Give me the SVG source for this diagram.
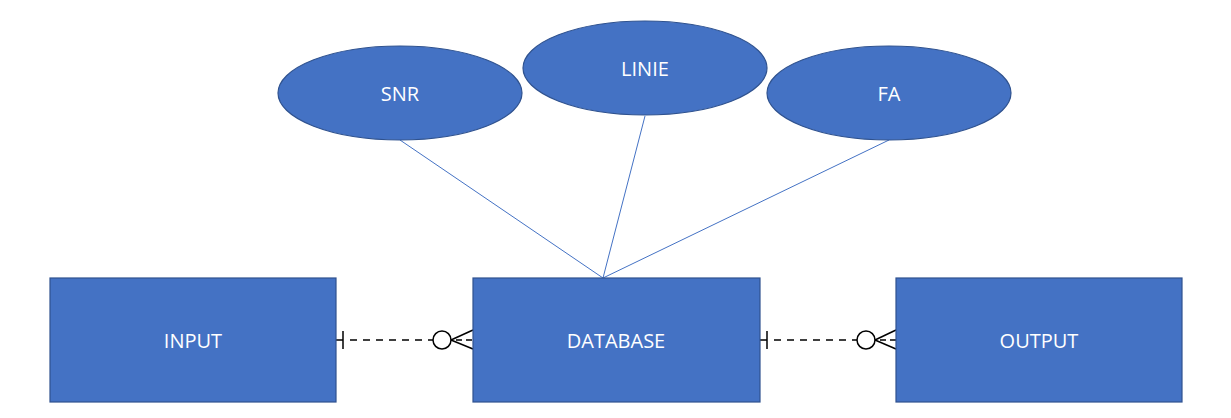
<svg xmlns="http://www.w3.org/2000/svg" width="1231" height="418" viewBox="0 0 1231 418">
<style>
.shape{fill:#4472C4;stroke:#2F528F;stroke-width:1.2}
.lbl{font-family:"Open Sans","Noto Sans",sans-serif;font-size:20px;fill:#FFFFFF;text-anchor:middle;dominant-baseline:central}
.attr{stroke:#4472C4;stroke-width:1;fill:none}
.rel{stroke:#000;stroke-width:1.5;fill:none}
.dash{stroke-dasharray:7 6}
</style>
<rect width="1231" height="418" fill="#FFFFFF"/>
<g id="connectors">
<line class="attr" x1="400" y1="140" x2="603" y2="278"/>
<line class="attr" x1="645" y1="116" x2="603" y2="278" stroke="#2F528F"/>
<line class="attr" x1="889" y1="140" x2="603" y2="278"/>
<g id="rel-input-db">
<line class="rel" x1="336" y1="340" x2="343" y2="340"/>
<line class="rel" x1="343" y1="331" x2="343" y2="349"/>
<line class="rel dash" x1="350" y1="340" x2="433" y2="340"/>
<circle class="rel" cx="442" cy="340" r="9" fill="#FFFFFF"/>
<line class="rel" x1="451" y1="340" x2="473" y2="330"/>
<line class="rel" x1="451" y1="340" x2="473" y2="349"/>
<line class="rel" x1="456" y1="340" x2="473" y2="340" stroke-dasharray="6 4"/>
</g>
<g id="rel-db-output">
<line class="rel" x1="760" y1="340" x2="767" y2="340"/>
<line class="rel" x1="767" y1="331" x2="767" y2="349"/>
<line class="rel dash" x1="774" y1="340" x2="857" y2="340"/>
<circle class="rel" cx="866" cy="340" r="9" fill="#FFFFFF"/>
<line class="rel" x1="875" y1="340" x2="896" y2="330"/>
<line class="rel" x1="875" y1="340" x2="896" y2="349"/>
<line class="rel" x1="880" y1="340" x2="896" y2="340" stroke-dasharray="6 4"/>
</g>
</g>
<g id="snr">
<ellipse class="shape" cx="400" cy="93" rx="122" ry="47"/>
<text class="lbl" x="400" y="93">SNR</text>
</g>
<g id="linie">
<ellipse class="shape" cx="645" cy="68" rx="122" ry="47"/>
<text class="lbl" x="645" y="68">LINIE</text>
</g>
<g id="fa">
<ellipse class="shape" cx="889" cy="93" rx="122" ry="47"/>
<text class="lbl" x="889" y="93">FA</text>
</g>
<g id="input">
<rect class="shape" x="50" y="278" width="286" height="124"/>
<text class="lbl" x="193" y="340">INPUT</text>
</g>
<g id="database">
<rect class="shape" x="473" y="278" width="287" height="124"/>
<text class="lbl" x="616" y="340">DATABASE</text>
</g>
<g id="output">
<rect class="shape" x="896" y="278" width="286" height="124"/>
<text class="lbl" x="1039" y="340">OUTPUT</text>
</g>
</svg>
